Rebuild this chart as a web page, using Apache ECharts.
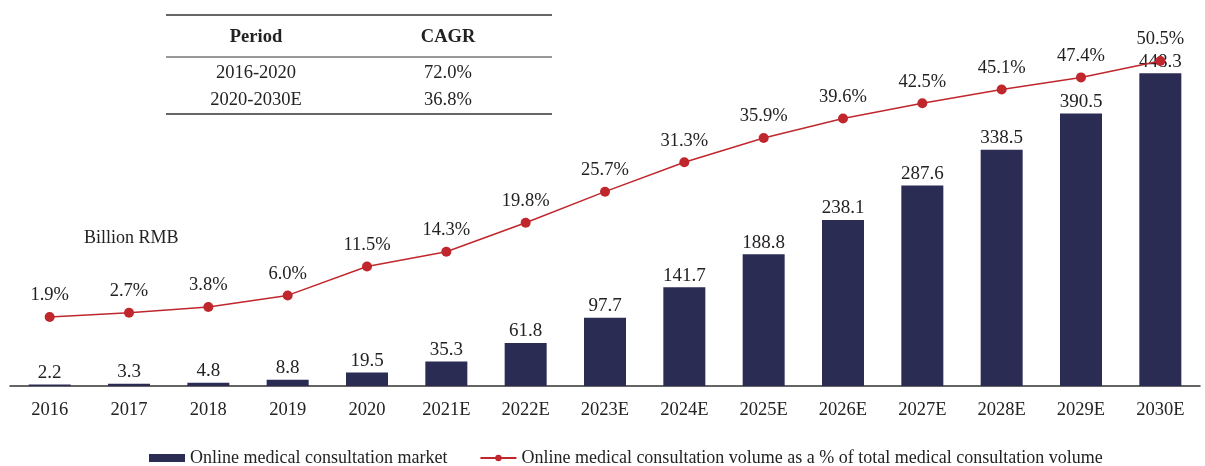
<!DOCTYPE html>
<html><head><meta charset="utf-8">
<script src="https://cdn.jsdelivr.net/npm/echarts@6/dist/echarts.min.js"></script>
<style>html,body{margin:0;padding:0;background:#fff}#c{width:1205px;height:466px}</style>
</head><body><div id="c"></div>
<script>
const categories = ['2016','2017','2018','2019','2020','2021E','2022E','2023E','2024E','2025E','2026E','2027E','2028E','2029E','2030E'];
const marketValues = [2.2,3.3,4.8,8.8,19.5,35.3,61.8,97.7,141.7,188.8,238.1,287.6,338.5,390.5,448.3];
const shareValues = [1.9,2.7,3.8,6.0,11.5,14.3,19.8,25.7,31.3,35.9,39.6,42.5,45.1,47.4,50.5];
const tableHeader = ['Period','CAGR'];
const tableRows = [['2016-2020','72.0%'],['2020-2030E','36.8%']];
const unitLabel = 'Billion RMB';
const seriesNames = ['Online medical consultation market','Online medical consultation volume as a % of total medical consultation volume'];

const FONT = '"Liberation Serif","Times New Roman",serif';
const FS = 18.5;
const BAR = '#2b2c53', RED = '#c0272d', TXT = '#222';
const chart = echarts.init(document.getElementById('c'));

const g = [];
g.push({type:'line',shape:{x1:166,y1:15,x2:552,y2:15},style:{stroke:'#333',lineWidth:1.5}});
g.push({type:'line',shape:{x1:166,y1:57,x2:552,y2:57},style:{stroke:'#333',lineWidth:1}});
g.push({type:'line',shape:{x1:166,y1:114,x2:552,y2:114},style:{stroke:'#333',lineWidth:1.5}});
const colX = [256,448];
tableHeader.forEach((t,i)=>g.push({type:'text',x:colX[i],y:37,style:{text:t,font:'bold '+FS+'px '+FONT,fill:TXT,textAlign:'center',textVerticalAlign:'middle'}}));
tableRows.forEach((r,j)=>r.forEach((t,i)=>g.push({type:'text',x:colX[i],y:73+j*27,style:{text:t,font:FS+'px '+FONT,fill:TXT,textAlign:'center',textVerticalAlign:'middle'}})));
g.push({type:'text',x:84,y:238,style:{text:unitLabel,font:'18px '+FONT,fill:TXT,textVerticalAlign:'middle'}});

chart.setOption({
  animation:false,
  textStyle:{fontFamily:FONT},
  grid:{left:10,right:5,top:40,bottom:80,containLabel:false},
  legend:{top:444,left:144,itemWidth:36,itemHeight:8,itemGap:32,
    textStyle:{fontFamily:FONT,fontSize:18,color:TXT},
    data:[{name:seriesNames[0],icon:'rect'},{name:seriesNames[1]}]},
  xAxis:{type:'category',data:categories,
    axisLine:{lineStyle:{color:'#333',width:1.5}},axisTick:{show:false},
    axisLabel:{fontFamily:FONT,fontSize:FS,color:TXT,margin:15}},
  yAxis:[
    {type:'value',min:0,max:496,show:false,splitLine:{show:false}},
    {type:'value',min:-11.2,max:54.5,show:false,splitLine:{show:false}}
  ],
  series:[
    {name:seriesNames[0],type:'bar',data:marketValues,barWidth:42,itemStyle:{color:BAR},
     label:{show:true,position:'top',distance:2,fontFamily:FONT,fontSize:19,color:TXT}},
    {name:seriesNames[1],type:'line',yAxisIndex:1,data:shareValues,
     lineStyle:{color:RED,width:1.5},itemStyle:{color:RED},symbol:'circle',symbolSize:10,
     label:{show:true,position:'top',distance:7,fontFamily:FONT,fontSize:FS,color:TXT,formatter:p=>p.value.toFixed(1)+'%'}}
  ],
  graphic:g
});
</script></body></html>
